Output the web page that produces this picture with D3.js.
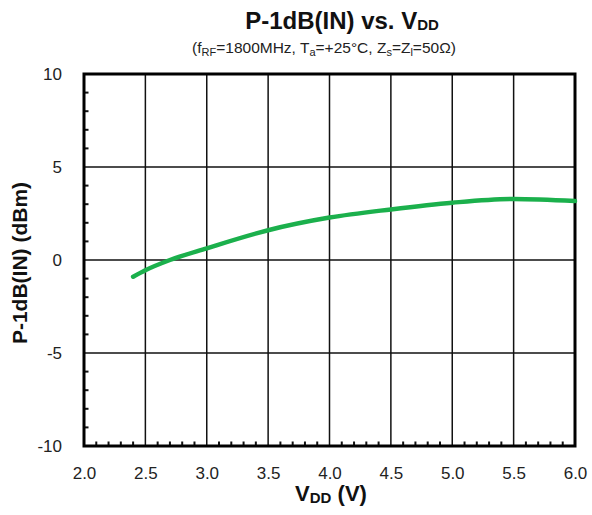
<!DOCTYPE html>
<html>
<head>
<meta charset="utf-8">
<script src="https://cdn.jsdelivr.net/npm/d3@7"></script>
<style>
  body { margin: 0; background: #fff; }
  text { font-family: "Liberation Sans", Arial, sans-serif; }
</style>
</head>
<body>
<svg id="chart" width="592" height="515"></svg>
<script>
// P-1dB(IN) versus supply voltage
const vdd = [2.4, 2.5, 2.7, 3.0, 3.5, 4.0, 4.5, 5.0, 5.5, 6.0];
const p1db = [-0.9, -0.55, 0.0, 0.63, 1.6, 2.28, 2.72, 3.08, 3.28, 3.17];
const xTicks = [2.0, 2.5, 3.0, 3.5, 4.0, 4.5, 5.0, 5.5, 6.0];
const yTicks = [-10, -5, 0, 5, 10];

const svg = d3.select("#chart");
const plotL = 84, plotR = 575, plotT = 74, plotB = 446;

const x = d3.scaleLinear().domain([2, 6]).range([plotL, plotR]);
const y = d3.scaleLinear().domain([-10, 10]).range([plotB, plotT]);

// grid
const g = svg.append("g");
g.selectAll(".vg").data(xTicks.slice(1, -1)).join("line")
  .attr("x1", d => x(d)).attr("x2", d => x(d))
  .attr("y1", plotT).attr("y2", plotB)
  .attr("stroke", "#111").attr("stroke-width", 1.5);
g.selectAll(".hg").data(yTicks.slice(1, -1)).join("line")
  .attr("x1", plotL).attr("x2", plotR)
  .attr("y1", d => y(d)).attr("y2", d => y(d))
  .attr("stroke", "#111").attr("stroke-width", 1.5);

// minor ticks on the inside of the left and bottom frame
const xMinor = d3.range(21, 60).filter(v => v % 5 !== 0).map(v => v / 10);
const yMinor = d3.range(-9, 10, 1).filter(v => v % 5 !== 0);
g.selectAll(".xm").data(xMinor).join("line")
  .attr("x1", d => x(d)).attr("x2", d => x(d))
  .attr("y1", plotB).attr("y2", plotB - 4.5)
  .attr("stroke", "#111").attr("stroke-width", 2);
g.selectAll(".ym").data(yMinor).join("line")
  .attr("x1", plotL).attr("x2", plotL + 4.5)
  .attr("y1", d => y(d)).attr("y2", d => y(d))
  .attr("stroke", "#111").attr("stroke-width", 2);

// frame
svg.append("rect")
  .attr("x", plotL).attr("y", plotT)
  .attr("width", plotR - plotL).attr("height", plotB - plotT)
  .attr("fill", "none").attr("stroke", "#000").attr("stroke-width", 3);

// tick labels via d3 axes (lines hidden)
const fmtY = d => String(d);
const xAxis = svg.append("g").attr("transform", `translate(0,${plotB})`)
  .call(d3.axisBottom(x).tickValues(xTicks).tickFormat(d3.format(".1f")).tickSize(0).tickPadding(21));
const yAxis = svg.append("g").attr("transform", `translate(${plotL},0)`)
  .call(d3.axisLeft(y).tickValues(yTicks).tickFormat(fmtY).tickSize(0).tickPadding(22));
[xAxis, yAxis].forEach(a => {
  a.select(".domain").remove();
  a.selectAll("text").attr("font-size", 17).attr("fill", "#222")
    .attr("font-family", "'Liberation Sans', Arial, sans-serif");
});

// data curve
const line = d3.line().x(d => x(d[0])).y(d => y(d[1])).curve(d3.curveMonotoneX);
svg.append("path")
  .datum(vdd.map((v, i) => [v, p1db[i]]))
  .attr("d", line)
  .attr("fill", "none").attr("stroke", "#1bb04c").attr("stroke-width", 4.5)
  .attr("stroke-linecap", "round");

// title
const title = svg.append("text").attr("x", 342).attr("y", 29)
  .attr("text-anchor", "middle").attr("font-size", 24).attr("font-weight", "bold").attr("fill", "#111");
title.append("tspan").text("P-1dB(IN) vs. V");
title.append("tspan").text("DD").attr("font-size", 15).attr("dy", 1);

// subtitle with subscripts
const sub = svg.append("text").attr("x", 324).attr("y", 53)
  .attr("text-anchor", "middle").attr("font-size", 15.5).attr("fill", "#222");
const parts = [
  ["(f", 0], ["RF", 1], ["=1800MHz,  T", 0], ["a", 1], ["=+25°C,  Z", 0], ["s", 1], ["=Z", 0], ["l", 1], ["=50Ω)", 0]
];
let prevSub = false;
parts.forEach(([t, s]) => {
  const ts = sub.append("tspan").text(t);
  if (s) { ts.attr("font-size", 11).attr("dy", prevSub ? 0 : 3); }
  else if (prevSub) { ts.attr("dy", -3); }
  prevSub = !!s;
});

// x axis title
const xt = svg.append("text").attr("x", 331).attr("y", 501)
  .attr("text-anchor", "middle").attr("font-size", 22).attr("font-weight", "bold").attr("fill", "#111");
xt.append("tspan").text("V");
xt.append("tspan").text("DD").attr("font-size", 15).attr("dy", 2);
xt.append("tspan").text(" (V)").attr("dy", -2);

// y axis title
svg.append("text")
  .attr("transform", `translate(27,263) rotate(-90)`)
  .attr("text-anchor", "middle").attr("font-size", 21).attr("font-weight", "bold").attr("fill", "#111")
  .text("P-1dB(IN) (dBm)");
</script>
</body>
</html>
